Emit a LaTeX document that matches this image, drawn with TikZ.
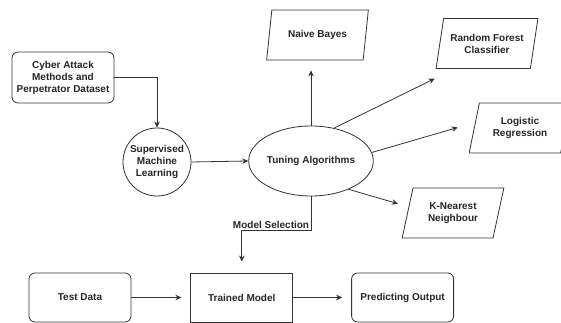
\documentclass[tikz,border=0pt]{standalone}
\usepackage{fontspec}
\setmainfont{Liberation Sans}
\usepackage{tikz}
\usetikzlibrary{positioning, arrows.meta, shapes.geometric}

\begin{document}
\begin{tikzpicture}[
      x=1pt, y=1pt,
      font=\fontsize{10}{12}\selectfont\bfseries,
      every node/.style={text=black!85},
      rbox/.style={draw, rounded corners=6pt, minimum height=49pt, minimum width=102pt, align=center, inner sep=2pt},
      sbox/.style={draw, minimum height=49pt, minimum width=102pt, align=center, inner sep=2pt},
      algo/.style={draw, trapezium, trapezium left angle=73, trapezium right angle=107, trapezium stretches=true, minimum height=50pt, minimum width=102pt, align=center, inner sep=1pt},
      arr/.style={-{Stealth[length=6pt, width=5.5pt]}, line width=0.8pt},
      line width=0.8pt, draw=black!80
    ]
    \useasboundingbox (0,0) rectangle (561,323);
    %% learning part
    \node[rbox, minimum height=51pt] (data) at (63,245.5) {Cyber Attack\\Methods and\\Perpetrator Dataset};
    \node[draw, circle, minimum size=68pt, inner sep=0pt, align=center] (sml) at (157,161) {Supervised\\Machine\\Learning};
    \node[draw, ellipse, minimum width=111pt, minimum height=70pt, inner sep=0pt] (tune) at (311,162) {Tuning Algorithms};
    \draw[arr] (data.east) -| (sml.north);
    \draw[arr] (sml.east) -- (tune.west);
    %% algorithms
    \node[algo] (nb) at (317.5,288) {Naive Bayes};
    \node[algo] (rf) at (487,279.5) {Random Forest\\Classifier};
    \node[algo] (lr) at (520,195) {Logistic\\Regression};
    \node[algo] (knn) at (453,110) {K-Nearest\\Neighbour};
    \draw[arr, shorten >=10pt] (tune.north) -- (tune.north |- nb.south);
    \draw[arr, shorten >=22pt] (tune.55) -- (rf.218);
    \draw[arr, shorten >=18pt] (tune.8) -- (lr.173);
    \draw[arr, shorten >=11pt] (tune.-37) -- (knn.172);
    %% testing part
    \node[rbox] (test) at (80,25.5) {Test Data};
    \node[sbox, right=59pt of test] (trained) {Trained Model};
    \node[rbox, right=58pt of trained] (pred) {Predicting Output};
    \draw[arr, shorten >=9pt] (test) -- (trained);
    \draw[arr, shorten >=9pt] (trained) -- (pred);
    \draw[arr, shorten >=11pt] (tune.south) -- ++(0,-34) coordinate (msel) -| (trained.north);
    \node[anchor=south east, inner sep=1.5pt] (msellabel) at (msel) {Model Selection};
  \end{tikzpicture}
\end{document}
